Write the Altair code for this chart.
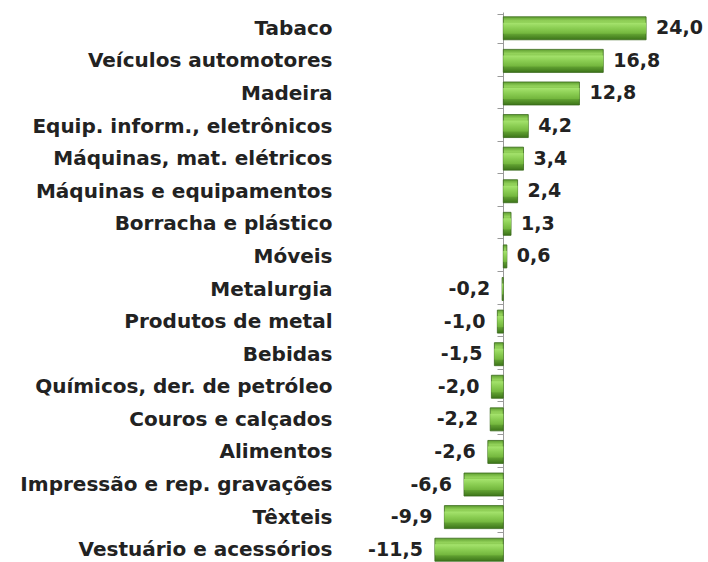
import altair as alt
import pandas as pd

categories = ["Tabaco", "Veículos automotores", "Madeira", "Equip. inform., eletrônicos",
              "Máquinas, mat. elétricos", "Máquinas e equipamentos", "Borracha e plástico",
              "Móveis", "Metalurgia", "Produtos de metal", "Bebidas",
              "Químicos, der. de petróleo", "Couros e calçados", "Alimentos",
              "Impressão e rep. gravações", "Têxteis", "Vestuário e acessórios"]
values = [24.0, 16.8, 12.8, 4.2, 3.4, 2.4, 1.3, 0.6, -0.2, -1.0, -1.5, -2.0, -2.2, -2.6,
          -6.6, -9.9, -11.5]

df = pd.DataFrame({"cat": categories, "value": values})
df["label"] = [f"{v:.1f}".replace(".", ",") for v in values]

FONT = "DejaVu Sans"

y_enc = alt.Y("cat:N", sort=categories, title=None,
              scale=alt.Scale(domain=categories, range=[0, 554]),
              axis=alt.Axis(orient="left", offset=-83, tickBand="extent", tickSize=6,
                            domainColor="#9a9a9a", tickColor="#9a9a9a", domainWidth=1,
                            labelPadding=165, labelLimit=0, labelOverlap=False,
                            labelFont=FONT, labelFontSize=20, labelFontWeight="bold",
                            labelColor="#222222"))
x_enc = alt.X("value:Q", stack=None, title=None, axis=None,
              scale=alt.Scale(domain=[-14, 26], nice=False, zero=False))

base = alt.Chart(df).encode(y=y_enc, x=x_enc)

outer = base.mark_bar(
    height=23,
    stroke="#3a6a1c", strokeWidth=0.8,
    color=alt.Gradient(
        gradient="linear", x1=0, x2=0, y1=0, y2=1,
        stops=[alt.GradientStop(offset=0, color="#5f9f30"),
               alt.GradientStop(offset=0.18, color="#93d25a"),
               alt.GradientStop(offset=0.4, color="#82c44a"),
               alt.GradientStop(offset=0.75, color="#62a232"),
               alt.GradientStop(offset=1, color="#3c7419")]))

inner = base.mark_bar(
    height=11,
    color=alt.Gradient(
        gradient="linear", x1=0, x2=0, y1=0, y2=1,
        stops=[alt.GradientStop(offset=0, color="#a6e46e"),
               alt.GradientStop(offset=0.5, color="#8acd52"),
               alt.GradientStop(offset=1, color="#72b53c")]))

pos_text = base.transform_filter("datum.value >= 0").mark_text(
    align="left", baseline="middle", dx=10, font=FONT, fontSize=19,
    fontWeight="bold", color="#222222").encode(text="label:N")

neg_text = base.transform_filter("datum.value < 0").mark_text(
    align="right", baseline="middle", dx=-12, font=FONT, fontSize=19,
    fontWeight="bold", color="#222222").encode(text="label:N")

chart = alt.layer(outer, inner, pos_text, neg_text).properties(
    width=238, height=550,
    autosize=alt.AutoSizeParams(type="none"),
    padding={"left": 420, "top": 12, "right": 50, "bottom": 0},
    background="white",
).configure_view(stroke=None)

chart.save("out.html", embed_options={"renderer": "svg", "actions": False})
